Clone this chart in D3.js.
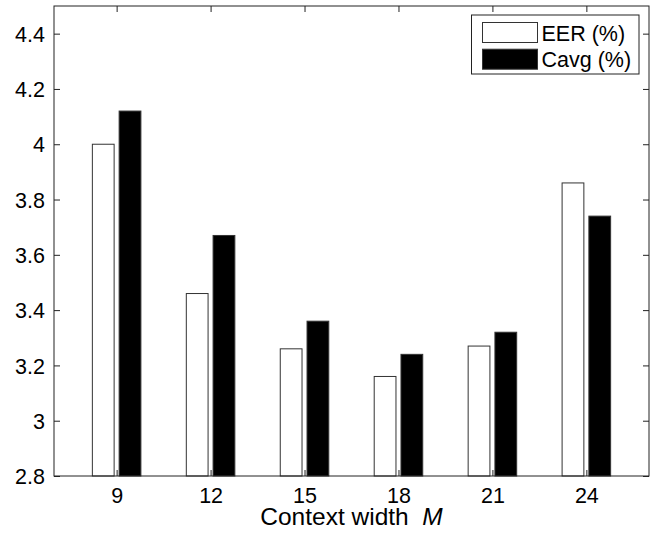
<!DOCTYPE html>
<html>
<head>
<meta charset="utf-8">
<script src="https://d3js.org/d3.v7.min.js"></script>
<style>
  body { margin: 0; background: #fff; }
  text { font-family: "Liberation Sans", Arial, sans-serif; fill: #000; }
</style>
</head>
<body>
<div id="chart"></div>
<script>
// bar chart: EER / Cavg vs context width

var contexts = [9, 12, 15, 18, 21, 24];
var eerValues = [4.00, 3.46, 3.26, 3.16, 3.27, 3.86];
var cavgValues = [4.12, 3.67, 3.36, 3.24, 3.32, 3.74];
var yTicks = [2.8, 3, 3.2, 3.4, 3.6, 3.8, 4, 4.2, 4.4];
var seriesNames = ['EER (%)', 'Cavg (%)'];

var outerWidth = 655, outerHeight = 538;
var margin = { left: 54, top: 6, right: 6, bottom: 62 };
var innerWidth = outerWidth - margin.left - margin.right;
var innerHeight = outerHeight - margin.top - margin.bottom;

var x = d3.scaleLinear().domain([7, 26]).range([0, innerWidth]);
var y = d3.scaleLinear().domain([2.8, 4.5]).range([innerHeight, 0]);

var svg = d3.select('#chart').append('svg')
  .attr('width', outerWidth)
  .attr('height', outerHeight);

var g = svg.append('g')
  .attr('transform', 'translate(' + margin.left + ',' + margin.top + ')');

// bars
var series = [
  { name: seriesNames[0], values: eerValues, fill: '#fff', lo: -0.775, hi: -0.08 },
  { name: seriesNames[1], values: cavgValues, fill: '#000', lo: 0.08, hi: 0.775 }
];

series.forEach(function (s) {
  g.append('g').selectAll('rect')
    .data(s.values)
    .enter()
    .append('rect')
    .attr('x', (d, i) => x(contexts[i] + s.lo))
    .attr('width', (d, i) => x(contexts[i] + s.hi) - x(contexts[i] + s.lo))
    .attr('y', d => y(d))
    .attr('height', d => innerHeight - y(d))
    .attr('fill', s.fill)
    .attr('stroke', '#333')
    .attr('stroke-width', 1);
});

// axes, ticks inward on all four sides
function styleAxis(sel) {
  sel.select('.domain').remove();
  sel.selectAll('line').attr('stroke', '#222');
}

var xAxis = g.append('g')
  .attr('transform', 'translate(0,' + innerHeight + ')')
  .call(d3.axisBottom(x).tickValues(contexts).tickSize(-6).tickPadding(0).tickFormat(d3.format('d')))
  .call(styleAxis);
xAxis.selectAll('text')
  .attr('y', 27)
  .attr('dy', 0)
  .style('font-size', '21.5px');

g.append('g')
  .call(d3.axisTop(x).tickValues(contexts).tickSize(-6).tickFormat(''))
  .call(styleAxis);

var yAxis = g.append('g')
  .call(d3.axisLeft(y).tickValues(yTicks).tickSize(-6).tickPadding(0).tickFormat(d3.format('')))
  .call(styleAxis);
yAxis.selectAll('text')
  .attr('x', -9)
  .attr('dy', '0.36em')
  .style('font-size', '21.5px');

g.append('g')
  .attr('transform', 'translate(' + innerWidth + ',0)')
  .call(d3.axisRight(y).tickValues(yTicks).tickSize(-6).tickFormat(''))
  .call(styleAxis);

// frame
g.append('rect')
  .attr('x', 0).attr('y', 0)
  .attr('width', innerWidth).attr('height', innerHeight)
  .attr('fill', 'none')
  .attr('stroke', '#222')
  .attr('stroke-width', 1);

// x axis title
var xTitle = svg.append('text')
  .attr('x', margin.left + innerWidth / 2)
  .attr('y', 525)
  .attr('text-anchor', 'middle')
  .style('font-size', '24.5px');
xTitle.append('tspan').text('Context width\u00a0\u00a0');
xTitle.append('tspan').style('font-style', 'italic').text('M');

// legend
var legend = svg.append('g').attr('transform', 'translate(471.5,15)');
legend.append('rect')
  .attr('width', 167.5).attr('height', 59)
  .attr('fill', '#fff')
  .attr('stroke', '#222');

series.forEach(function (s, i) {
  var row = legend.append('g').attr('transform', 'translate(0,' + (7.5 + i * 26.7) + ')');
  row.append('rect')
    .attr('x', 11).attr('y', 0)
    .attr('width', 55).attr('height', 20)
    .attr('fill', s.fill)
    .attr('stroke', '#333');
  row.append('text')
    .attr('x', 70).attr('y', 18)
    .style('font-size', '21.5px')
    .text(s.name);
});
</script>
</body>
</html>
